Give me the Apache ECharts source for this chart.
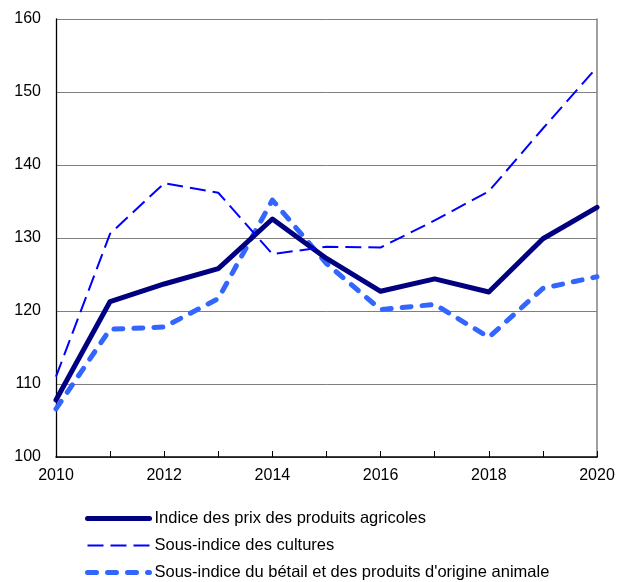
<!DOCTYPE html>
<html>
<head>
<meta charset="utf-8">
<script src="https://cdn.jsdelivr.net/npm/echarts@6/dist/echarts.min.js"></script>
<style>
  html, body { margin: 0; padding: 0; background: #fff; }
  #chart { width: 624px; height: 582px; }
</style>
</head>
<body>
<div id="chart"></div>
<script>
// années
const years = ['2010', '2011', '2012', '2013', '2014', '2015', '2016', '2017', '2018', '2019', '2020'];
// valeurs
const indicePrix = [107.8, 121.3, 123.7, 125.8, 132.6, 127.2, 122.7, 124.4, 122.6, 129.9, 134.2];
const cultures = [111.0, 130.6, 137.5, 136.2, 127.8, 128.8, 128.7, 132.4, 136.4, 145.0, 153.4];
const betail = [106.6, 117.5, 117.8, 121.7, 135.2, 126.5, 120.2, 120.9, 116.4, 123.1, 124.7];
const seriesNames = [
  'Indice des prix des produits agricoles',
  'Sous-indice des cultures',
  "Sous-indice du bétail et des produits d'origine animale"
];

// styles des lignes (partagés entre séries et légende)
const styles = [
  { color: '#000080', width: 5, type: 'solid', cap: 'round', join: 'round' },
  { color: '#0000ff', width: 2, type: [16, 7], cap: 'butt', join: 'round' },
  { color: '#3366ff', width: 5, type: [9, 11], cap: 'round', join: 'round' }
];

const myechart = echarts.init(document.getElementById('chart'));

let option = {
  animation: false,
  textStyle: { fontFamily: 'Liberation Sans, Arial, sans-serif' },
  grid: { left: 56, top: 19, right: 27, bottom: 125 },
  legend: {
    orient: 'vertical',
    left: 85,
    top: 510,
    height: 100,
    padding: 0,
    itemWidth: 62,
    itemHeight: 14,
    itemGap: 10,
    itemStyle: { opacity: 0 },
    textStyle: { fontSize: 16.5, color: '#000' },
    data: seriesNames.map((n, i) => ({ name: n, lineStyle: styles[i] }))
  },
  xAxis: {
    type: 'category',
    data: years,
    boundaryGap: false,
    axisLine: { lineStyle: { color: '#000', width: 1.5 } },
    axisTick: { inside: true, length: 6, interval: 0, lineStyle: { color: '#000' } },
    axisLabel: {
      interval: 1,
      margin: 11,
      fontSize: 16,
      color: '#000'
    }
  },
  yAxis: [
    {
      type: 'value',
      min: 100,
      max: 160,
      interval: 10,
      axisLine: { show: true, lineStyle: { color: '#000', width: 1.3 } },
      axisTick: { show: false },
      axisLabel: { margin: 15, fontSize: 16, color: '#000' },
      splitLine: { lineStyle: { color: '#7f7f7f', width: 1 } }
    },
    {
      type: 'value',
      position: 'right',
      min: 100,
      max: 160,
      interval: 10,
      axisLine: { show: true, lineStyle: { color: '#808080', width: 1.5 } },
      axisTick: { show: false },
      axisLabel: { show: false },
      splitLine: { show: false }
    }
  ],
  series: [
    {
      name: seriesNames[0],
      type: 'line',
      data: indicePrix,
      symbol: 'none',
      z: 3,
      lineStyle: styles[0],
      itemStyle: { color: styles[0].color }
    },
    {
      name: seriesNames[1],
      type: 'line',
      data: cultures,
      symbol: 'none',
      z: 4,
      lineStyle: styles[1],
      itemStyle: { color: styles[1].color }
    },
    {
      name: seriesNames[2],
      type: 'line',
      data: betail,
      symbol: 'none',
      z: 2,
      lineStyle: styles[2],
      itemStyle: { color: styles[2].color }
    }
  ]
};
myechart.setOption(option);
window.onresize = () => { myechart.resize() }
</script>
</body>
</html>
